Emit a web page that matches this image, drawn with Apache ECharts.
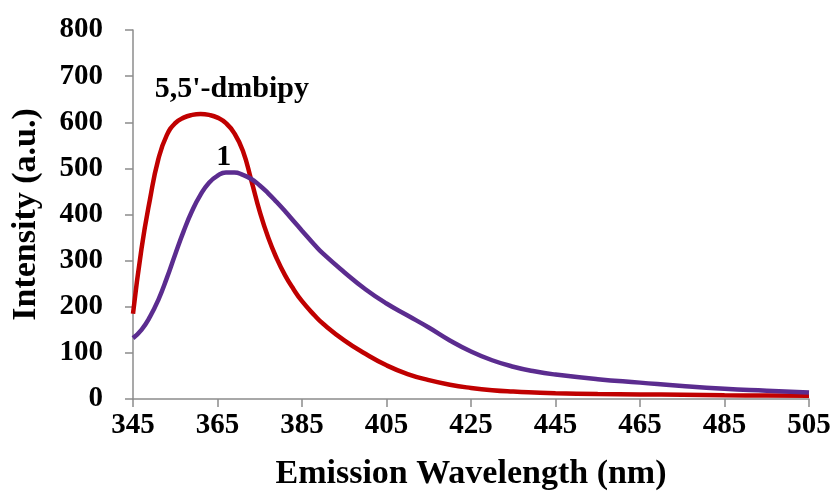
<!DOCTYPE html>
<html>
<head>
<meta charset="utf-8">
<script src="https://cdn.jsdelivr.net/npm/echarts@6/dist/echarts.min.js"></script>
<style>
html,body{margin:0;padding:0;background:#fff;}
#chart{width:836px;height:500px;}
</style>
</head>
<body>
<div id="chart"></div>
<script>
// Wavelengths (nm)
const wavelengths = [345,347,349,351,353,355,357,359,361,363,365,367,369,371,373,375,377,379,381,383,385,388,390,395,400,405,410,415,420,425,430,435,440,445,455,465,475,485,495,505];
// 5,5'-dmbipy intensity (a.u.)
const dmbipy = [185,325,432,520,572,598,610,616,618,616,610,598,576,538,474,406,350,305,268,238,212,181,163,127,98,73,54,41,31,24,19,16,14,12.5,11,10,9,8,7.5,7];
// Compound 1 intensity (a.u.)
const compound1 = [132,150,178,215,262,314,364,408,443,469,484,491,491,486,477,463,446,427,407,386,365,334,315,275,238,207,181,155,127,103,84,70,60,53,43,35.5,28,22,18,14];
// Tick labels
const xTicks = [345,365,385,405,425,445,465,485,505];
const yTicks = [0,100,200,300,400,500,600,700,800];
// Annotations [wavelength, intensity, text]
const annDmbipy = [368.4, 672, "5,5'-dmbipy"];
const annCompound1 = [366.5, 525, "1"];

const font = '"Liberation Serif","Times New Roman",serif';
const toPairs = (xs, ys) => xs.map((x, i) => [x, ys[i]]);

const chart = echarts.init(document.getElementById('chart'), null, {renderer: 'canvas'});
const annLabel = (a) => ({
  coord: [a[0], a[1]],
  symbol: 'circle', symbolSize: 0,
  label: {show: true, position: 'inside', formatter: a[2], color: '#000',
    fontFamily: font, fontWeight: 'bold', fontSize: 30}
});
chart.setOption({
  animation: false,
  backgroundColor: '#fff',
  grid: {left: 133, right: 27, top: 30, bottom: 101, containLabel: false},
  xAxis: {
    type: 'value', min: 345, max: 505,
    name: 'Emission Wavelength (nm)', nameLocation: 'middle', nameGap: 58,
    nameTextStyle: {fontFamily: font, fontWeight: 'bold', fontSize: 34, color: '#000'},
    axisLine: {show: true, lineStyle: {color: '#8c8c8c', width: 1.5}},
    axisTick: {show: true, length: 8, customValues: xTicks, lineStyle: {color: '#8c8c8c', width: 1.5}},
    axisLabel: {customValues: xTicks, margin: 12, fontFamily: font, fontWeight: 'bold', fontSize: 29, color: '#000'},
    splitLine: {show: false}
  },
  yAxis: {
    type: 'value', min: 0, max: 800, interval: 100,
    name: 'Intensity (a.u.)', nameLocation: 'middle', nameGap: 90,
    nameTextStyle: {fontFamily: font, fontWeight: 'bold', fontSize: 34, color: '#000'},
    axisLine: {show: true, lineStyle: {color: '#8c8c8c', width: 1.5}},
    axisTick: {show: true, length: 8, inside: false, lineStyle: {color: '#8c8c8c', width: 1.5}},
    axisLabel: {customValues: yTicks, margin: 30, fontFamily: font, fontWeight: 'bold', fontSize: 29, color: '#000'},
    splitLine: {show: false}
  },
  series: [
    {
      name: "5,5'-dmbipy", type: 'line', data: toPairs(wavelengths, dmbipy),
      smooth: 0.5, showSymbol: false, symbol: 'none',
      lineStyle: {color: '#C00000', width: 4.5}, itemStyle: {color: '#C00000'},
      markPoint: {data: [annLabel(annDmbipy)]}
    },
    {
      name: '1', type: 'line', data: toPairs(wavelengths, compound1),
      smooth: 0.5, showSymbol: false, symbol: 'none',
      lineStyle: {color: '#5B2C8F', width: 4.5}, itemStyle: {color: '#5B2C8F'},
      markPoint: {data: [annLabel(annCompound1)]}
    }
  ]
});
</script>
</body>
</html>
